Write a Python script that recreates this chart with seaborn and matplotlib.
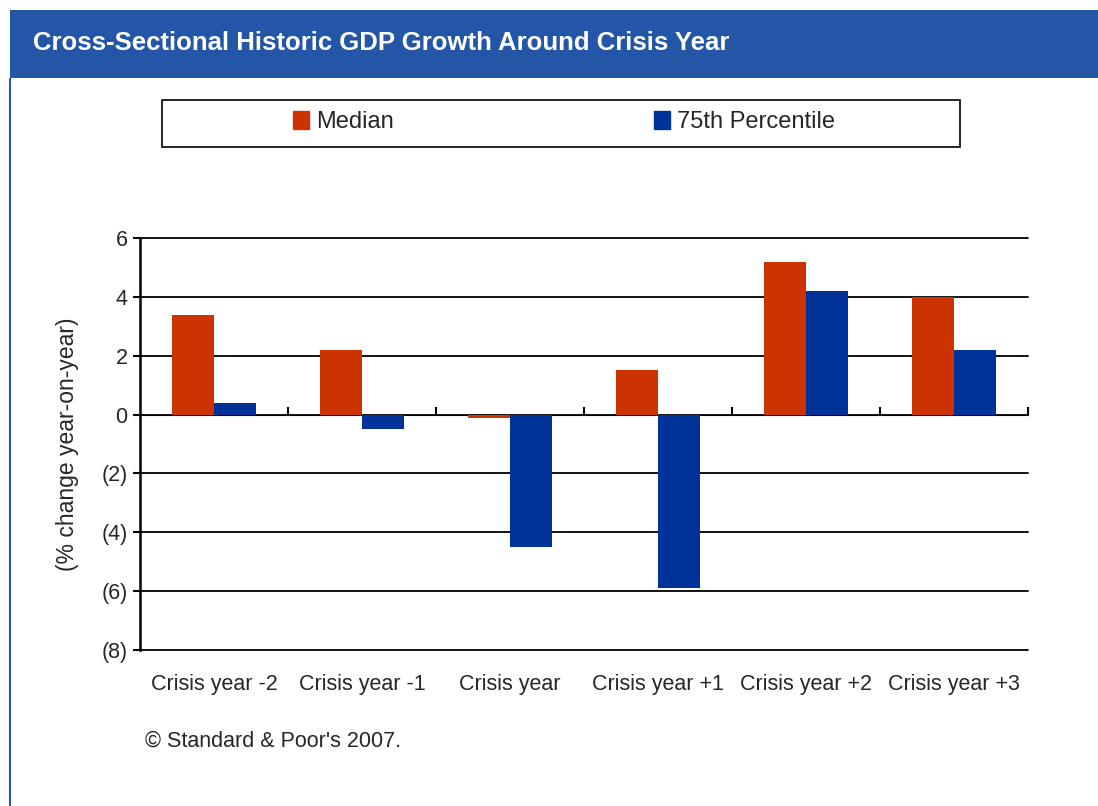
import seaborn as sns
import matplotlib.pyplot as plt
import matplotlib.patches as mpatches
import pandas as pd

## Data ##
categories = ['Crisis year -2', 'Crisis year -1', 'Crisis year',
              'Crisis year +1', 'Crisis year +2', 'Crisis year +3']
median_vals = [3.4, 2.2, -0.1, 1.5, 5.2, 4.0]
pct75_vals = [0.4, -0.5, -4.5, -5.9, 4.2, 2.2]
series_names = ['Median', '75th Percentile']
y_ticks = [6, 4, 2, 0, -2, -4, -6, -8]
y_tick_labels = ['6', '4', '2', '0', '(2)', '(4)', '(6)', '(8)']

colors = ['#CC3300', '#003399']
bar_blue = '#2456A8'

## Long format for seaborn ##
df = pd.DataFrame({
    'Category': categories * 2,
    'Value': median_vals + pct75_vals,
    'Series': [series_names[0]] * len(categories) + [series_names[1]] * len(categories),
})

sns.set_style('white')
plt.rcParams['font.family'] = ['Liberation Sans', 'DejaVu Sans']

fig = plt.figure(figsize=(10.98, 8.06), dpi=100)
fig.patch.set_facecolor('white')

# title bar and left border #
fig.patches.append(mpatches.Rectangle((10 / 1098, 1 - 78 / 806), 1, 68 / 806,
                                      transform=fig.transFigure, facecolor=bar_blue,
                                      edgecolor='none', zorder=0))
fig.patches.append(mpatches.Rectangle((9 / 1098, 0), 2 / 1098, 1 - 78 / 806,
                                      transform=fig.transFigure, facecolor=bar_blue,
                                      edgecolor='none', zorder=0))
fig.text(33 / 1098, 1 - 43 / 806, 'Cross-Sectional Historic GDP Growth Around Crisis Year',
         color='white', fontsize=18.5, fontweight='bold', va='center', ha='left')

ax = fig.add_axes([140 / 1098, 1 - 650 / 806, 888 / 1098, 412 / 806])
sns.barplot(data=df, x='Category', y='Value', hue='Series', palette=colors,
            saturation=1, width=0.57, gap=0, ax=ax, legend=False, linewidth=0)

ymin, ymax = -8, 6
ax.set_ylim(ymin, ymax)
ax.set_xlim(-0.5, len(categories) - 0.5)
ax.set_yticks(y_ticks)
ax.set_yticklabels(y_tick_labels, fontsize=15.5)
ax.set_xticks(range(len(categories)))
ax.set_xticklabels(categories, fontsize=15.5)
ax.tick_params(axis='x', length=0, pad=17)
ax.tick_params(axis='y', length=5, width=1.5, direction='out', left=True, pad=4, color='black')
ax.grid(axis='y', color='black', linewidth=1.3)
for gl in ax.get_ygridlines():
    gl.set_clip_on(False)
ax.set_axisbelow(True)
for s in ['top', 'right', 'bottom']:
    ax.spines[s].set_visible(False)
ax.spines['left'].set_linewidth(1.8)
ax.spines['left'].set_color('black')
ax.set_xlabel('')
ax.set_ylabel('(% change year-on-year)', fontsize=16.5, labelpad=16)

# zero line with category separator ticks #
zero_ax = ax.secondary_xaxis((0 - ymin) / (ymax - ymin))
zero_ax.set_xticks([i - 0.5 for i in range(1, len(categories) + 1)])
zero_ax.set_xticklabels([])
zero_ax.tick_params(axis='x', length=6, width=1.5, direction='out', color='black')
zero_ax.spines['bottom'].set_linewidth(1.5)
zero_ax.spines['bottom'].set_color('black')

# legend #
fig.patches.append(mpatches.Rectangle((162 / 1098, 1 - 147 / 806), 798 / 1098, 47 / 806,
                                      transform=fig.transFigure, facecolor='white',
                                      edgecolor='black', linewidth=1.2, zorder=1))
handles = [mpatches.Patch(color=c) for c in colors]
fig.legend(handles, series_names, loc='center', ncol=2,
           bbox_to_anchor=(564 / 1098, 1 - 122 / 806), frameon=False, fontsize=17,
           handlelength=0.7, handleheight=0.8, handletextpad=0.3, columnspacing=11)

fig.text(145 / 1098, 1 - 741 / 806, "\u00a9 Standard & Poor's 2007.", fontsize=15.5,
         va='center', ha='left')

plt.savefig('out.png', dpi=100)
